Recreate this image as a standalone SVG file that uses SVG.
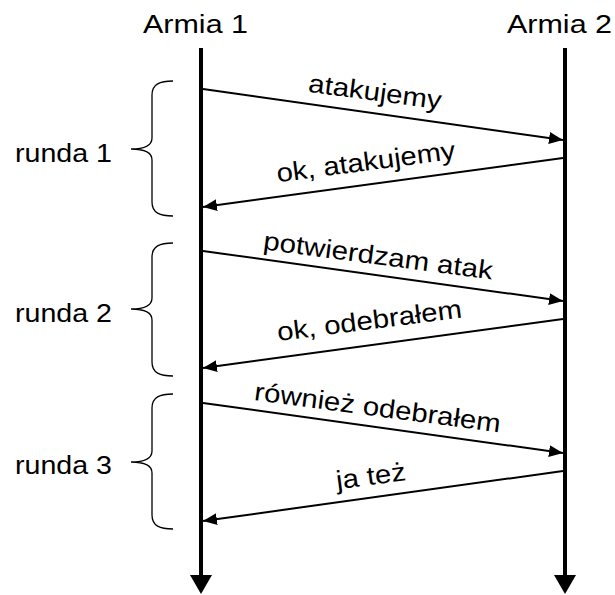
<svg xmlns="http://www.w3.org/2000/svg" width="615" height="595" viewBox="0 0 615 595">
  <defs>
    <marker id="msg" viewBox="0 0 14 12" refX="14" refY="6" markerWidth="14" markerHeight="12" markerUnits="userSpaceOnUse" orient="auto">
      <path d="M0,0 L14,6 L0,12 Z" fill="#000"/>
    </marker>
  </defs>
  <style>
    text { font-family: "Liberation Sans", Arial, sans-serif; font-size: 26px; fill: #000; }
    .lbl { text-anchor: middle; }
    .life { stroke: #000; stroke-width: 4; fill: none; }
    .head { fill: #000; }
    .msg { stroke: #000; stroke-width: 2; fill: none; marker-end: url(#msg); }
    .brace { stroke: #000; stroke-width: 1.3; fill: none; }
  </style>

  <!-- lifelines -->
  <g id="armia1">
    <text x="143" y="33" textLength="105" lengthAdjust="spacingAndGlyphs">Armia 1</text>
    <line class="life" x1="201" y1="48" x2="201" y2="576"/>
    <path class="head" d="M190,575 L212,575 L201,594 Z"/>
  </g>
  <g id="armia2">
    <text x="507" y="33" textLength="105" lengthAdjust="spacingAndGlyphs">Armia 2</text>
    <line class="life" x1="565" y1="48" x2="565" y2="576"/>
    <path class="head" d="M554,575 L576,575 L565,594 Z"/>
  </g>

  <!-- rounds -->
  <g id="runda1">
    <path class="brace" d="M173,81 C160,81 152,84 152,95 L152,138 C152,145 146,149 131,149 C146,149 152,153 152,160 L152,202 C152,213 160,216 173,216"/>
    <text x="15" y="162" textLength="97" lengthAdjust="spacingAndGlyphs">runda 1</text>
  </g>
  <g id="runda2">
    <path class="brace" d="M173,243 C160,243 152,246 152,257 L152,298 C152,305 146,309 131,309 C146,309 152,313 152,320 L152,362 C152,373 160,376 173,376"/>
    <text x="15" y="322" textLength="97" lengthAdjust="spacingAndGlyphs">runda 2</text>
  </g>
  <g id="runda3">
    <path class="brace" d="M173,394 C160,394 152,397 152,408 L152,451 C152,458 146,462 131,462 C146,462 152,466 152,473 L152,515 C152,526 160,529 173,529"/>
    <text x="15" y="474" textLength="97" lengthAdjust="spacingAndGlyphs">runda 3</text>
  </g>

  <!-- messages -->
  <g id="connectors">
    <line class="msg" x1="203" y1="89" x2="563" y2="140"/>
    <line class="msg" x1="563" y1="158" x2="203" y2="207"/>
    <line class="msg" x1="203" y1="251" x2="563" y2="301"/>
    <line class="msg" x1="563" y1="319" x2="203" y2="368"/>
    <line class="msg" x1="203" y1="403" x2="563" y2="453"/>
    <line class="msg" x1="563" y1="471" x2="203" y2="521"/>
  </g>

  <g id="labels">
    <text class="lbl" transform="translate(374,100.5) rotate(7.5)" textLength="134" lengthAdjust="spacingAndGlyphs">atakujemy</text>
    <text class="lbl" transform="translate(367,170.5) rotate(-7.5)" textLength="180" lengthAdjust="spacingAndGlyphs">ok, atakujemy</text>
    <text class="lbl" transform="translate(377,264.4) rotate(7.5)" textLength="231" lengthAdjust="spacingAndGlyphs">potwierdzam atak</text>
    <text class="lbl" transform="translate(370.5,329.2) rotate(-7.3)" textLength="186" lengthAdjust="spacingAndGlyphs">ok, odebrałem</text>
    <text class="lbl" transform="translate(376.5,416.2) rotate(7.5)" textLength="248" lengthAdjust="spacingAndGlyphs">również odebrałem</text>
    <text class="lbl" transform="translate(372,484.7) rotate(-7.5)" textLength="70" lengthAdjust="spacingAndGlyphs">ja też</text>
  </g>
</svg>
